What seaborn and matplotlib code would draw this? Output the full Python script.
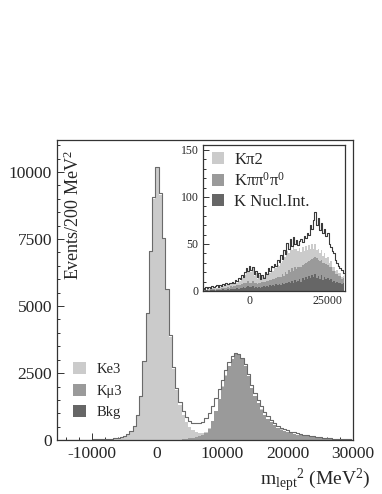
import numpy as np
import pandas as pd
import seaborn as sns
import matplotlib.pyplot as plt
from matplotlib.patches import Patch
from matplotlib.ticker import MultipleLocator

# bin centres (MeV^2), 500 MeV^2 wide
centers = list(range(-15000, 30001, 500))
edges = list(range(-15250, 30251, 500))

# main plot: MC components and data (events / 200 MeV^2)
ke3 = [4, 5, 6, 7, 8, 10, 11, 13, 15, 18, 21, 25, 29, 34, 40, 48, 57, 70, 88, 115,
       155, 215, 320, 520, 900, 1600, 2900, 4700, 7000, 9000, 10150, 9150, 7500, 5600,
       3850, 2650, 1850, 1280, 900, 620, 420, 280, 180, 115, 72, 45, 28, 18, 12, 8,
       6, 5, 4, 3, 3, 3, 2, 2, 2, 2, 2, 2, 2, 2, 2, 2, 2, 2, 2, 2,
       2, 2, 2, 2, 2, 2, 2, 2, 2, 2, 2, 2, 2, 2, 2, 2, 2, 2, 2, 2, 2]
kmu3 = [0, 0, 0, 0, 0, 0, 0, 0, 0, 0, 0, 0, 0, 0, 0, 0, 0, 0, 0, 0,
        0, 0, 0, 0, 0, 0, 0, 0, 0, 0, 1, 2, 3, 4, 6, 9, 14, 20, 30, 42,
        58, 80, 108, 145, 195, 270, 420, 700, 1080, 1530, 1990, 2400, 2760, 3020, 3200, 3170, 3020, 2770, 2380, 1930,
        1630, 1360, 1130, 940, 780, 650, 540, 450, 380, 320, 280, 240, 212, 188, 168, 145, 126, 107, 93, 80,
        67, 56, 47, 38, 31, 25, 20, 16, 12, 9, 7]
bkg = [0] * 14 + [1] * 11 + [2] * 10 + [4] * 8 + [6] * 8 + [9] * 8 + [13] * 8 + [16] * 8 + [15] * 7 + [10] * 9
data = [5, 6, 6, 8, 9, 10, 12, 14, 16, 19, 23, 26, 31, 36, 43, 51, 60, 74, 93, 120,
        162, 225, 335, 540, 930, 1640, 2950, 4750, 7050, 9050, 10200, 9200, 7550, 5650, 3920, 2720, 1950, 1420, 1080, 860,
        720, 650, 625, 630, 690, 820, 1010, 1260, 1560, 1910, 2260, 2610, 2900, 3120, 3260, 3230, 3080, 2850, 2480, 2060,
        1760, 1490, 1260, 1060, 890, 750, 635, 545, 470, 410, 362, 320, 286, 256, 230, 205, 182, 160, 142, 126,
        110, 96, 83, 71, 61, 52, 45, 38, 32, 27, 23]

# inset: background components and data
kpi2 = [0, 1, 0, 1, 1, 0, 1, 1, 2, 1, 1,
        2, 1, 2, 2, 3, 2, 3, 2, 3, 3,
        4, 3, 5, 5, 7, 6, 9, 12, 10, 14,
        11, 13, 8, 10, 6, 8, 5, 7, 5, 8,
        6, 9, 7, 10, 8, 11, 10, 13, 12, 15,
        14, 20, 16, 24, 18, 26, 20, 28, 19, 22,
        17, 20, 15, 19, 14, 18, 13, 17, 12, 16,
        10, 14, 9, 12, 8, 11, 7, 10, 6, 8,
        5, 7, 4, 5, 3, 4, 3, 3, 2, 2]
kpp = [1, 1, 0, 1, 1, 1, 1, 1, 1, 1, 1,
       1, 2, 1, 2, 2, 2, 2, 3, 2, 3,
       3, 3, 4, 3, 4, 4, 5, 5, 6, 5,
       5, 6, 5, 5, 4, 5, 5, 6, 5, 6,
       6, 7, 6, 7, 7, 8, 7, 9, 8, 9,
       10, 9, 11, 10, 12, 11, 13, 12, 14, 13,
       14, 13, 16, 14, 17, 15, 18, 16, 19, 17,
       20, 18, 21, 17, 19, 16, 18, 15, 16, 14,
       13, 12, 11, 10, 9, 8, 8, 7, 6, 6]
nucl = [1, 0, 1, 1, 0, 1, 1, 1, 0, 1, 1,
        1, 1, 2, 1, 1, 2, 1, 2, 2, 2,
        2, 3, 2, 3, 3, 4, 3, 4, 5, 4,
        4, 5, 3, 4, 3, 4, 3, 4, 5, 4,
        5, 4, 6, 5, 6, 5, 7, 6, 7, 6,
        8, 7, 9, 8, 10, 9, 11, 9, 12, 10,
        11, 13, 10, 14, 12, 15, 13, 16, 14, 17,
        15, 18, 14, 16, 13, 17, 12, 15, 13, 14,
        12, 13, 10, 11, 9, 10, 8, 9, 7, 8]
data_bkg = [3, 2, 4, 3, 4, 3, 5, 4, 5, 6, 4,
            6, 5, 7, 6, 8, 7, 9, 8, 10, 9,
            12, 11, 14, 13, 17, 15, 20, 24, 21, 27,
            22, 25, 18, 21, 15, 19, 13, 17, 14, 20,
            18, 24, 21, 27, 25, 29, 27, 33, 31, 38,
            34, 44, 39, 51, 45, 55, 48, 57, 50, 54,
            49, 53, 55, 52, 58, 56, 62, 60, 70, 66,
            75, 84, 70, 78, 65, 72, 62, 66, 58, 62,
            50, 47, 42, 40, 33, 30, 27, 24, 22, 19]

main_labels = ["Ke3", "K\u03bc3", "Bkg"]
inset_labels = ["K\u03c02", "K\u03c0\u03c0$^0$\u03c0$^0$", "K Nucl.Int."]
colors = ["#cbcbcb", "#9a9a9a", "#666666"]

sns.set_theme(style="ticks")
plt.rcParams["font.family"] = ["Liberation Serif", "DejaVu Serif"]
plt.rcParams["mathtext.default"] = "regular"
plt.rcParams["axes.unicode_minus"] = False

fig = plt.figure(figsize=(3.82, 4.94), dpi=100)
ax = fig.add_axes([0.149, 0.109, 0.775, 0.608])


def stacked(axis, comps, labels, pal):
    df = pd.DataFrame({
        "x": centers * len(comps),
        "w": sum(comps, []),
        "comp": sum([[lab] * len(centers) for lab in labels], []),
    })
    sns.histplot(data=df, x="x", weights="w", hue="comp", hue_order=labels,
                 palette=dict(zip(labels, pal)), bins=edges, multiple="stack",
                 element="step", alpha=1, linewidth=0, legend=False, ax=axis)


def style_axis(axis, size, major_len, minor_len):
    for s in axis.spines.values():
        s.set_linewidth(0.9)
        s.set_color("#333333")
    axis.tick_params(which="both", direction="in", top=False, right=False,
                     labelsize=size, color="#333333", width=0.7)
    axis.tick_params(which="major", length=major_len)
    axis.tick_params(which="minor", length=minor_len)
    axis.set_xlabel("")
    axis.set_ylabel("")


# main panel
stacked(ax, [ke3, kmu3, bkg], main_labels, colors)
sns.histplot(x=centers, weights=data, bins=edges, element="step", fill=False,
             color="#6a6a6a", linewidth=0.8, ax=ax)
ax.set_xlim(-15350, 30000)
ax.set_ylim(0, 11200)
ax.xaxis.set_major_locator(MultipleLocator(10000))
ax.xaxis.set_minor_locator(MultipleLocator(2000))
ax.yaxis.set_major_locator(MultipleLocator(2500))
ax.yaxis.set_minor_locator(MultipleLocator(500))
style_axis(ax, 12.5, 5, 2.5)
ax.tick_params(axis="x", pad=4)

ax.text(0.055, 0.968, "Events/200 MeV$^2$", transform=ax.transAxes,
        rotation=90, ha="center", va="top", fontsize=13)
fig.text(0.969, 0.017, "m$_{lept}$$^2$ (MeV$^2$)", ha="right", va="baseline",
         fontsize=14)

handles = [Patch(facecolor=c, edgecolor="none") for c in colors]
ax.legend(handles, main_labels, loc="lower left", bbox_to_anchor=(0.054, 0.07),
          frameon=False, fontsize=10.5, handlelength=0.9, handleheight=0.9,
          handletextpad=0.75, labelspacing=0.5, borderpad=0, borderaxespad=0)

# inset
ins = fig.add_axes([0.531, 0.411, 0.372, 0.295])
ins.set_facecolor("white")
stacked(ins, [kpi2, kpp, nucl], ["Kpi2", "Kpp", "Nucl"], colors)
sns.histplot(x=centers, weights=data_bkg, bins=edges, element="step", fill=False,
             color="#3a3a3a", linewidth=0.8, ax=ins)
ins.set_xlim(-15000, 30500)
ins.set_ylim(0, 155)
ins.xaxis.set_major_locator(MultipleLocator(25000))
ins.xaxis.set_minor_locator(MultipleLocator(5000))
ins.yaxis.set_major_locator(MultipleLocator(50))
ins.yaxis.set_minor_locator(MultipleLocator(10))
style_axis(ins, 8.5, 4, 2)
ins.tick_params(pad=3)
ins.legend(handles, inset_labels, loc="upper left", bbox_to_anchor=(0.063, 0.955),
           frameon=False, fontsize=12, handlelength=0.75, handleheight=0.75,
           handletextpad=0.6, labelspacing=0.25, borderpad=0, borderaxespad=0)

fig.savefig("out.png", dpi=100)
